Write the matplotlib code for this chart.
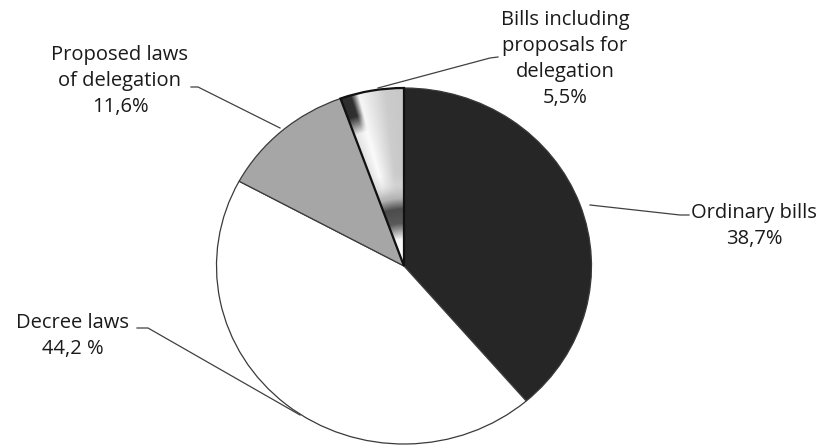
import numpy as np
import matplotlib
matplotlib.use("Agg")
from matplotlib import pyplot as plt

# Data
categories = ["Ordinary bills", "Decree laws", "Proposed laws\nof delegation",
              "Bills including\nproposals for\ndelegation"]
shares = [38.7, 44.2, 11.6, 5.5]
share_labels = ["38,7%", "44,2 %", "11,6%", "5,5%"]
colors = ["#262626", "#ffffff", "#a6a6a6", "#c8c8c8"]

W, H = 821, 445
CX, CY = 404, 266      # pie centre in pixels
RX, RY = 187.5, 178    # pie radii in pixels


def px(x, y):
    # pixel coords (origin top-left) -> data coords of the unit pie
    return (x - CX) / RX, (CY - y) / RY


plt.rcParams['font.family'] = ['Open Sans', 'DejaVu Sans']

fig = plt.figure(figsize=(W / 100, H / 100), dpi=100)
ax = fig.add_axes([0, 0, 1, 1])

wedges, _ = ax.pie(shares, colors=colors, startangle=90, counterclock=False,
                   wedgeprops=dict(edgecolor="#3a3a3a", linewidth=0.9))
wedges[3].set_linewidth(1.6)
wedges[3].set_edgecolor("#111111")

ax.set_aspect('auto')
x0, y0 = px(0, H)
x1, y1 = px(W, 0)
ax.set_xlim(x0, x1)
ax.set_ylim(y0, y1)
ax.axis('off')

# metallic gradient fill for the small slice
gx = np.linspace(-0.45, 0.05, 300)
gy = np.linspace(-0.05, 1.05, 400)
X, Y = np.meshgrid(gx, gy)
ang = np.degrees(np.arctan2(Y, X))
t = np.clip((ang - 90) / (shares[3] * 3.6), 0, 1)
r = np.hypot(X, Y)
base = np.interp(t, [0, 0.3, 0.55, 0.75, 1.0],
                 [0.78, 0.80, 0.90, 0.98, 0.88])
dark = np.clip((r - 0.78) / 0.1, 0, 1) * np.clip((t - 0.72) / 0.12, 0, 1)
base = base * (1 - 0.8 * dark)
radial = np.interp(r, [0, 0.15, 0.24, 0.32, 0.38, 0.46],
                   [1.0, 0.97, 0.35, 0.3, 0.7, 0.85])
w = np.clip((r - 0.4) / 0.12, 0, 1)
val = w * base + (1 - w) * radial
im = ax.imshow(val, extent=(gx[0], gx[-1], gy[0], gy[-1]), origin='lower',
               cmap='gray', vmin=0, vmax=1, aspect='auto', zorder=1.5,
               interpolation='bilinear')
im.set_clip_path(wedges[3])
wedges[3].set_facecolor('none')
wedges[3].set_zorder(2)

# labels and leader lines (pixel positions)
fs = 14.5
label_pos = [(754, 226), (73, 336), (120, 81), (565, 59)]
leaders = [
    [(590, 205), (680, 215), (689, 215)],
    [(137, 328), (148, 328), (300, 415)],
    [(191, 87), (198, 87), (280, 128)],
    [(498, 57), (490, 58), (378, 88)],
]
for cat, lab, (lx, ly), pts in zip(categories, share_labels, label_pos, leaders):
    tx, ty = px(lx, ly)
    ax.text(tx, ty, cat + "\n" + lab, ha='center', va='center', fontsize=fs,
            color="#1a1a1a", linespacing=1.42)
    xs, ys = zip(*[px(a, b) for a, b in pts])
    ax.plot(xs, ys, color="#404040", lw=0.9, zorder=3)

fig.savefig("out.png", dpi=100)
